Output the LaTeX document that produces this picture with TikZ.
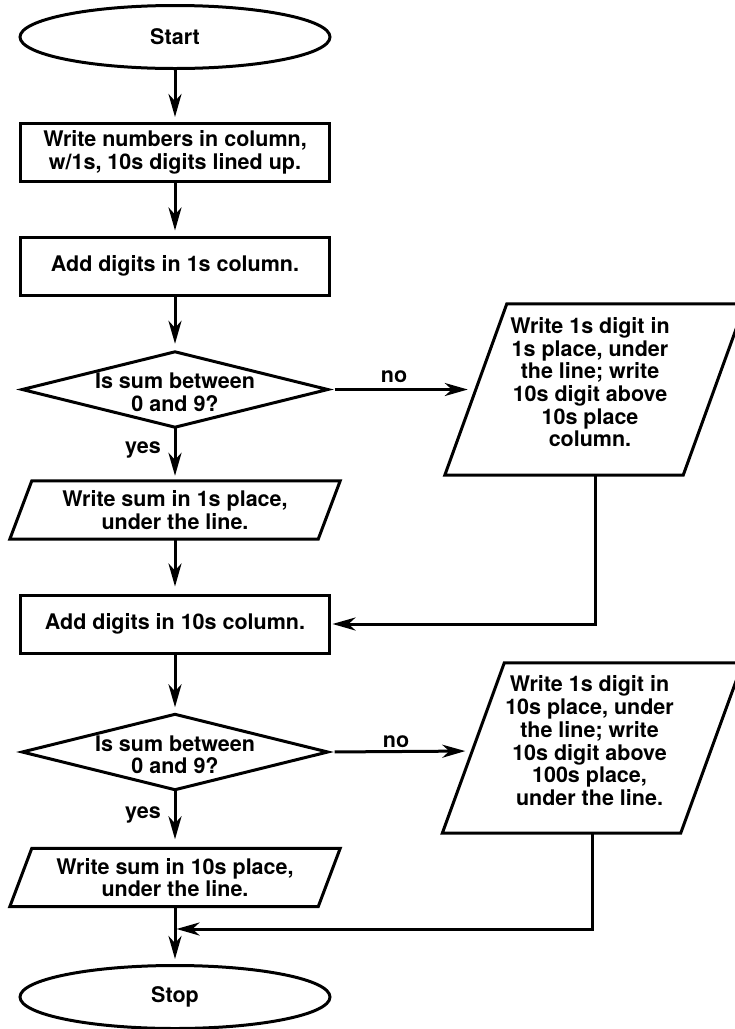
\documentclass[tikz,border=0pt]{standalone}
\usepackage{fontspec}
\setmainfont{TeX Gyre Heros}
\usetikzlibrary{arrows.meta,shapes.geometric,calc}
% move a centred block of lines by (#1,#2) without changing its reported size
\newcommand\nudged[3]{\raisebox{#2}[\height][\depth]{\kern#1\begin{tabular}{@{}c@{}}#3\end{tabular}\kern-#1}}
\begin{document}
\begin{tikzpicture}[x=1pt,y=-1pt,
  every node/.style={font=\bfseries\fontsize{21.5}{22.5}\selectfont, align=center, inner sep=0pt},
  outline/.style={line width=3pt, line join=miter},
  terminal/.style={ellipse, draw, line width=3pt, minimum width=310pt, minimum height=63pt},
  procbox/.style={rectangle, draw, line width=3pt, minimum width=309pt, minimum height=58pt},
  decision/.style={rectangle, minimum width=305pt, minimum height=75pt},
  iobox/.style={rectangle, minimum width=330pt, minimum height=58pt},
  iobig/.style={rectangle, minimum width=300pt, minimum height=171pt},
  conn/.style={line width=3pt, -{Stealth[length=23pt,width=13pt,inset=7pt]}, shorten >=5pt},
  tag/.style={font=\bfseries\fontsize{21.5}{22.5}\selectfont}
]
\useasboundingbox (0,0) rectangle (735,1029);

% main column
\node[terminal] (start) at (175,37) {Start};
\node[procbox] (b1) at (175,152.5) {Write numbers in column,\\w/1s, 10s digits lined up.};
\node[procbox] (b2) at (175,266) {Add digits in 1s column.};
\node[decision] (d1) at (175,389.5) {\nudged{0pt}{-6pt}{Is sum between\\0 and 9?}};
\node[iobox] (p1) at (175,510) {Write sum in 1s place,\\under the line.};
\node[procbox] (b3) at (175,624) {Add digits in 10s column.};
\node[decision] (d2) at (175,752) {\nudged{0pt}{-6pt}{Is sum between\\0 and 9?}};
\node[iobox] (p2) at (175,877.5) {Write sum in 10s place,\\under the line.};
\node[terminal] (stop) at (175,997) {Stop};

% side branches
\node[iobig] (r1) at (595,389.5)
  {\nudged{-5pt}{4pt}{Write 1s digit in\\1s place, under\\the line; write\\10s digit above\\10s place\\column.}};
\node[iobig, minimum height=170pt] (r2) at (592.5,748)
  {\nudged{-3pt}{4pt}{Write 1s digit in\\10s place, under\\the line; write\\10s digit above\\100s place,\\under the line.}};

% outlines of decisions and data boxes
\foreach \d in {d1,d2}
  \draw[outline] (\d.north) -- (\d.east) -- (\d.south) -- (\d.west) -- cycle;
\foreach \p in {p1,p2}
  \draw[outline] ([xshift=22pt]\p.north west) -- (\p.north east)
    -- ([xshift=-22pt]\p.south east) -- (\p.south west) -- cycle;
\foreach \r in {r1,r2}
  \draw[outline] ([xshift=62pt]\r.north west) -- (\r.north east)
    -- ([xshift=-62pt]\r.south east) -- (\r.south west) -- cycle;

% branch labels
\node[tag] (yes1) at (143,450) {yes};
\node[tag] (no1) at (394,377) {no};
\node[tag] (yes2) at (143,815) {yes};
\node[tag] (no2) at (396,742) {no};

% connectors
\draw[conn] (start.south) -- (b1.north);
\draw[conn] (b1.south) -- (b2.north);
\draw[conn, shorten >=8pt] (b2.south) -- (d1.north);
\draw[conn] (d1.south) -- (p1.north);
\draw[conn, shorten >=7pt] (p1.south) -- (b3.north);
\draw[conn, shorten >=7pt] (b3.south) -- (d2.north);
\draw[conn, shorten >=9pt] (d2.south) -- (p2.north);
\draw[conn] (p2.south) -- (stop.north);

\draw[conn, shorten <=7pt, shorten >=8pt] (d1.east) -- ([xshift=31pt]r1.west);
\draw[conn, shorten <=7pt, shorten >=8pt] (d2.east) -- ([xshift=31pt,yshift=-3pt]r2.west);

\coordinate (m) at (175,929);
\draw[conn, shorten >=1.5pt] (r1.south) |- (b3.east);
\draw[conn, shorten >=1.5pt] (r2.south) |- (m);
\end{tikzpicture}
\end{document}
